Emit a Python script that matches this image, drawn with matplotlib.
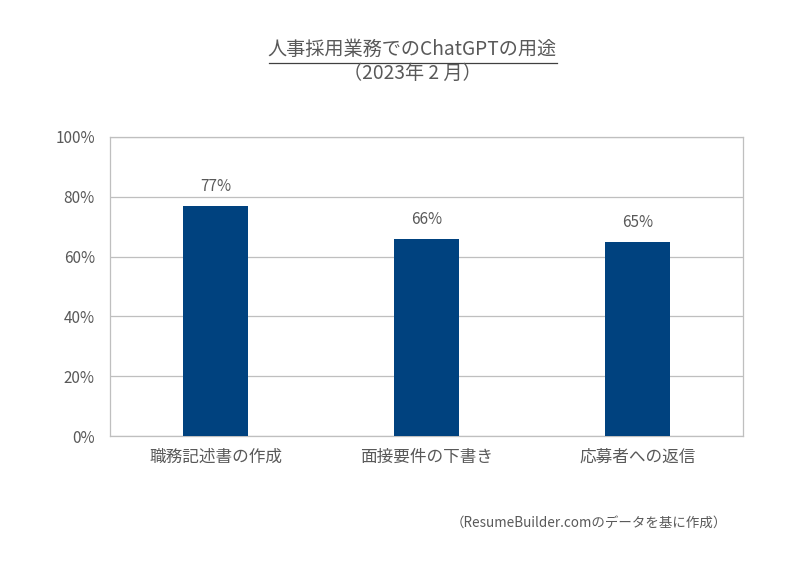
import matplotlib
matplotlib.use("Agg")
import matplotlib.pyplot as plt
from matplotlib.lines import Line2D

plt.rcParams['font.family'] = ['Noto Sans CJK JP', 'DejaVu Sans']

categories = ["職務記述書の作成", "面接要件の下書き", "応募者への返信"]
values = [77, 66, 65]
yticks = [0, 20, 40, 60, 80, 100]
ytick_labels = ["0%", "20%", "40%", "60%", "80%", "100%"]

bar_color = "#00427F"
text_color = "#595959"
grid_color = "#BFBFBF"

fig = plt.figure(figsize=(8.02, 5.67), dpi=100)
ax = fig.add_axes([0.1372, 0.2310, 0.7892, 0.5274])

x = range(len(categories))
bars = ax.bar(x, values, width=0.31, color=bar_color, zorder=3)
for xi, v in zip(x, values):
    ax.annotate(f"{v}%", (xi, v), xytext=(0, 8), textcoords="offset points",
                ha="center", va="bottom", fontsize=11, color=text_color)

ax.set_xlim(-0.5, 2.5)
ax.set_ylim(0, 100)
ax.set_yticks(yticks)
ax.set_yticklabels(ytick_labels)
ax.set_xticks(list(x))
ax.set_xticklabels(categories)
ax.tick_params(axis="both", length=0, colors=text_color)
ax.tick_params(axis="y", pad=11, labelsize=11)
ax.tick_params(axis="x", pad=9, labelsize=12)
ax.yaxis.grid(True, color=grid_color, linewidth=0.9, zorder=0)
for s in ax.spines.values():
    s.set_color(grid_color)
    s.set_linewidth(0.9)

# title, centred a little right of the figure middle as in the original
fig.text(0.514, 0.913, "人事採用業務でのChatGPTの用途", ha="center", va="center",
         fontsize=13.8, color=text_color)
fig.text(0.514, 0.870, "（2023年 2 月）", ha="center", va="center",
         fontsize=13.8, color=text_color)
fig.add_artist(Line2D([0.335, 0.694], [0.889, 0.889], color="#404040", linewidth=0.9))

fig.text(0.907, 0.076, "（ResumeBuilder.comのデータを基に作成）", ha="right", va="center",
         fontsize=9.7, color=text_color)

fig.savefig("out.png", dpi=100, facecolor="white")
